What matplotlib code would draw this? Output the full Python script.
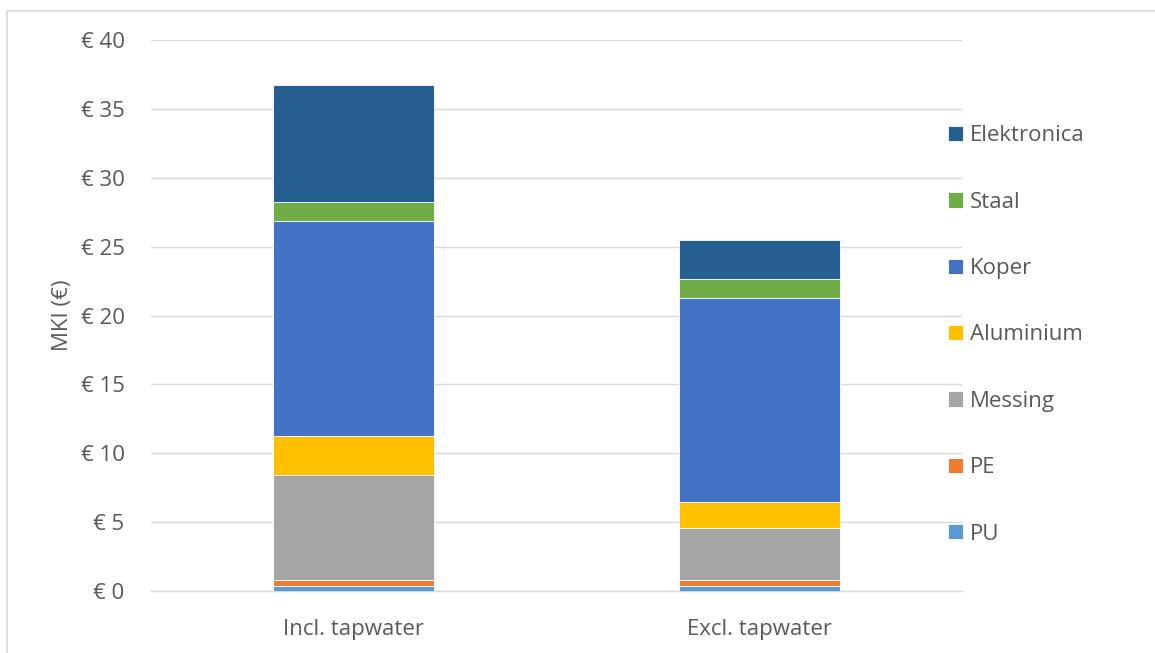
import matplotlib
matplotlib.use("Agg")
import matplotlib.pyplot as plt
from matplotlib.patches import Rectangle

plt.rcParams['font.family'] = ['Open Sans', 'DejaVu Sans']

categories = ["Incl. tapwater", "Excl. tapwater"]
materials = ["PU", "PE", "Messing", "Aluminium", "Koper", "Staal", "Elektronica"]
pu = [0.35, 0.35]
pe = [0.45, 0.45]
messing = [7.60, 3.80]
aluminium = [2.87, 1.84]
koper = [15.61, 14.83]
staal = [1.36, 1.38]
elektronica = [8.47, 2.81]
series = [pu, pe, messing, aluminium, koper, staal, elektronica]
colors = ["#5B9BD5", "#ED7D31", "#A5A5A5", "#FFC000", "#4472C4", "#70AD47", "#255E91"]
yticks = [0, 5, 10, 15, 20, 25, 30, 35, 40]

text_color = "#595959"
grid_color = "#D9D9D9"

fig = plt.figure(figsize=(11.55, 6.53), dpi=100)
ax = fig.add_axes([151 / 1155, 1 - 591 / 653, 811 / 1155, 551 / 653])

x = list(range(len(categories)))
bottom = [0.0] * len(categories)
handles = []
for name, vals, col in zip(materials, series, colors):
    bars = ax.bar(x, vals, width=0.397, bottom=bottom, color=col,
                  edgecolor="white", linewidth=0.6, label=name, zorder=3)
    handles.append(bars)
    bottom = [b + v for b, v in zip(bottom, vals)]

ax.set_xlim(-0.5, 1.5)
ax.set_ylim(0, 40)
ax.set_yticks(yticks)
ax.set_yticklabels([f"€ {t}" for t in yticks])
ax.set_xticks(x)
ax.set_xticklabels(categories)
ax.yaxis.grid(True, color=grid_color, linewidth=1.0, zorder=0)
ax.tick_params(axis="both", length=0, labelsize=16, colors=text_color)
ax.tick_params(axis="y", pad=19)
ax.tick_params(axis="x", pad=20)
for side in ["left", "right", "top"]:
    ax.spines[side].set_visible(False)
ax.spines["bottom"].set_color(grid_color)
ax.spines["bottom"].set_linewidth(1.0)
ax.set_ylabel("MKI (€)", fontsize=16, color=text_color, labelpad=5.5)

leg = fig.legend(handles[::-1], materials[::-1], loc="center left",
                 bbox_to_anchor=(948 / 1155, 1 - 335 / 653), frameon=False,
                 fontsize=16, handlelength=0.68, handleheight=0.68,
                 handletextpad=0.32, labelspacing=2.04, borderpad=0,
                 borderaxespad=0)
for t in leg.get_texts():
    t.set_color(text_color)

# chart frame
fig.patches.append(Rectangle((7 / 1155, -0.1), 1.2, 1 - 11 / 653 + 0.1,
                             transform=fig.transFigure, fill=False,
                             edgecolor=grid_color, linewidth=1.2))

fig.savefig("out.png", dpi=100)
